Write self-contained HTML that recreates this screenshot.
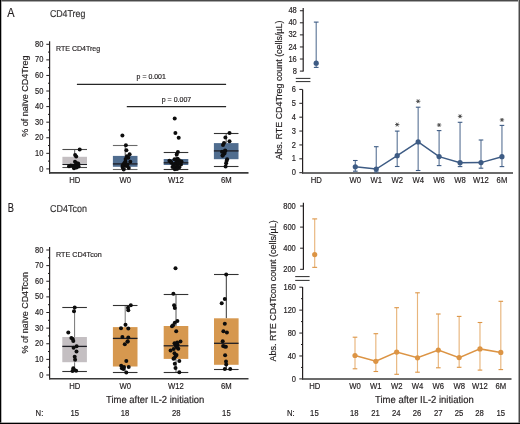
<!DOCTYPE html>
<html><head><meta charset="utf-8"><style>
html,body{margin:0;padding:0;background:#fff;width:520px;height:424px;overflow:hidden;}
svg text{font-family:"Liberation Sans", sans-serif;stroke:#231f20;stroke-width:0.18px;}
</style></head><body>
<svg width="520" height="424" viewBox="0 0 520 424" style="position:absolute;left:0;top:0;will-change:transform">
<g font-family='"Liberation Sans", sans-serif'>
<rect x="0" y="0" width="520" height="424" fill="#fff"/>
<text x="7.3" y="16.6" font-size="12.2" text-anchor="start" fill="#231f20" textLength="7.3" lengthAdjust="spacingAndGlyphs">A</text>
<text x="49.9" y="17.4" font-size="10" text-anchor="start" fill="#3a3a3a" textLength="35.4" lengthAdjust="spacingAndGlyphs" text-rendering="geometricPrecision">CD4Treg</text>
<line x1="49.6" y1="41.2" x2="49.6" y2="173.7" stroke="#231f20" stroke-width="1.2"/>
<line x1="46.3" y1="168.9" x2="49.6" y2="168.9" stroke="#231f20" stroke-width="1"/>
<text x="43.4" y="171.5" font-size="8.25" text-anchor="end" fill="#231f20" textLength="4.17" lengthAdjust="spacingAndGlyphs">0</text>
<line x1="48" y1="161.11" x2="49.6" y2="161.11" stroke="#231f20" stroke-width="1"/>
<line x1="46.3" y1="153.33" x2="49.6" y2="153.33" stroke="#231f20" stroke-width="1"/>
<text x="43.4" y="155.93" font-size="8.25" text-anchor="end" fill="#231f20" textLength="8.34" lengthAdjust="spacingAndGlyphs">10</text>
<line x1="48" y1="145.54" x2="49.6" y2="145.54" stroke="#231f20" stroke-width="1"/>
<line x1="46.3" y1="137.75" x2="49.6" y2="137.75" stroke="#231f20" stroke-width="1"/>
<text x="43.4" y="140.35" font-size="8.25" text-anchor="end" fill="#231f20" textLength="8.34" lengthAdjust="spacingAndGlyphs">20</text>
<line x1="48" y1="129.96" x2="49.6" y2="129.96" stroke="#231f20" stroke-width="1"/>
<line x1="46.3" y1="122.18" x2="49.6" y2="122.18" stroke="#231f20" stroke-width="1"/>
<text x="43.4" y="124.78" font-size="8.25" text-anchor="end" fill="#231f20" textLength="8.34" lengthAdjust="spacingAndGlyphs">30</text>
<line x1="48" y1="114.39" x2="49.6" y2="114.39" stroke="#231f20" stroke-width="1"/>
<line x1="46.3" y1="106.6" x2="49.6" y2="106.6" stroke="#231f20" stroke-width="1"/>
<text x="43.4" y="109.2" font-size="8.25" text-anchor="end" fill="#231f20" textLength="8.34" lengthAdjust="spacingAndGlyphs">40</text>
<line x1="48" y1="98.81" x2="49.6" y2="98.81" stroke="#231f20" stroke-width="1"/>
<line x1="46.3" y1="91.03" x2="49.6" y2="91.03" stroke="#231f20" stroke-width="1"/>
<text x="43.4" y="93.62" font-size="8.25" text-anchor="end" fill="#231f20" textLength="8.34" lengthAdjust="spacingAndGlyphs">50</text>
<line x1="48" y1="83.24" x2="49.6" y2="83.24" stroke="#231f20" stroke-width="1"/>
<line x1="46.3" y1="75.45" x2="49.6" y2="75.45" stroke="#231f20" stroke-width="1"/>
<text x="43.4" y="78.05" font-size="8.25" text-anchor="end" fill="#231f20" textLength="8.34" lengthAdjust="spacingAndGlyphs">60</text>
<line x1="48" y1="67.66" x2="49.6" y2="67.66" stroke="#231f20" stroke-width="1"/>
<line x1="46.3" y1="59.88" x2="49.6" y2="59.88" stroke="#231f20" stroke-width="1"/>
<text x="43.4" y="62.48" font-size="8.25" text-anchor="end" fill="#231f20" textLength="8.34" lengthAdjust="spacingAndGlyphs">70</text>
<line x1="48" y1="52.09" x2="49.6" y2="52.09" stroke="#231f20" stroke-width="1"/>
<line x1="46.3" y1="44.3" x2="49.6" y2="44.3" stroke="#231f20" stroke-width="1"/>
<text x="43.4" y="46.9" font-size="8.25" text-anchor="end" fill="#231f20" textLength="8.34" lengthAdjust="spacingAndGlyphs">80</text>
<line x1="49" y1="172.9" x2="248.5" y2="172.9" stroke="#3a3a3a" stroke-width="1.6"/>
<text x="56" y="51" font-size="7.8" text-anchor="start" fill="#231f20" textLength="44.2" lengthAdjust="spacingAndGlyphs">RTE CD4Treg</text>
<text transform="translate(27.9,96.1) rotate(-90)" font-size="9.3" text-anchor="middle" fill="#231f20" textLength="81.2" lengthAdjust="spacingAndGlyphs">% of na&#239;ve CD4Treg</text>
<line x1="76.9" y1="84.4" x2="226.1" y2="84.4" stroke="#262626" stroke-width="1.15"/>
<line x1="126.8" y1="106.6" x2="226.1" y2="106.6" stroke="#262626" stroke-width="1.15"/>
<text x="151.2" y="79.3" font-size="7.3" text-anchor="middle" fill="#231f20" textLength="29.2" lengthAdjust="spacingAndGlyphs">p = 0.001</text>
<text x="176.5" y="101.6" font-size="7.3" text-anchor="middle" fill="#231f20" textLength="29.5" lengthAdjust="spacingAndGlyphs">p = 0.007</text>
<line x1="74.7" y1="149.6" x2="74.7" y2="156.8" stroke="#555" stroke-width="1"/>
<line x1="74.7" y1="163.1" x2="74.7" y2="167.8" stroke="#555" stroke-width="1"/>
<rect x="62.400000000000006" y="156.8" width="24.6" height="6.299999999999983" fill="#c4bfc2"/>
<line x1="62.4" y1="164.4" x2="87" y2="164.4" stroke="#1e1e24" stroke-width="1.3"/>
<line x1="62.4" y1="149.5" x2="87" y2="149.5" stroke="#4a4a4a" stroke-width="1.1"/>
<line x1="62.4" y1="167.5" x2="87" y2="167.5" stroke="#4a4a4a" stroke-width="1.1"/>
<line x1="125.2" y1="145.6" x2="125.2" y2="155.9" stroke="#555" stroke-width="1"/>
<line x1="125.2" y1="166.8" x2="125.2" y2="169.3" stroke="#555" stroke-width="1"/>
<rect x="112.9" y="155.9" width="24.6" height="10.900000000000006" fill="#506d8f"/>
<line x1="112.9" y1="163.9" x2="137.5" y2="163.9" stroke="#1e1e24" stroke-width="1.3"/>
<line x1="112.9" y1="145.5" x2="137.5" y2="145.5" stroke="#6a6a6a" stroke-width="1.1"/>
<line x1="112.9" y1="169.5" x2="137.5" y2="169.5" stroke="#6a6a6a" stroke-width="1.1"/>
<line x1="176" y1="152.2" x2="176" y2="159" stroke="#555" stroke-width="1"/>
<line x1="176" y1="165" x2="176" y2="169.4" stroke="#555" stroke-width="1"/>
<rect x="163.7" y="159.0" width="24.6" height="6.0" fill="#506d8f"/>
<line x1="163.7" y1="162.8" x2="188.3" y2="162.8" stroke="#1e1e24" stroke-width="1.3"/>
<line x1="163.7" y1="152.5" x2="188.3" y2="152.5" stroke="#333" stroke-width="1.1"/>
<line x1="163.7" y1="169.5" x2="188.3" y2="169.5" stroke="#333" stroke-width="1.1"/>
<line x1="226.2" y1="133" x2="226.2" y2="143.1" stroke="#555" stroke-width="1"/>
<line x1="226.2" y1="159.2" x2="226.2" y2="166.4" stroke="#555" stroke-width="1"/>
<rect x="213.89999999999998" y="143.1" width="24.6" height="16.099999999999994" fill="#506d8f"/>
<line x1="213.9" y1="150.9" x2="238.5" y2="150.9" stroke="#1e1e24" stroke-width="1.3"/>
<line x1="213.9" y1="133.5" x2="238.5" y2="133.5" stroke="#333" stroke-width="1.1"/>
<line x1="213.9" y1="166.5" x2="238.5" y2="166.5" stroke="#333" stroke-width="1.1"/>
<circle cx="79.7" cy="149.6" r="2.0" fill="#0d0d0d"/>
<circle cx="75.1" cy="155.1" r="2.0" fill="#0d0d0d"/>
<circle cx="76.2" cy="156.6" r="2.0" fill="#0d0d0d"/>
<circle cx="75" cy="161.8" r="2.0" fill="#0d0d0d"/>
<circle cx="78.2" cy="163.5" r="2.0" fill="#0d0d0d"/>
<circle cx="76.3" cy="163.1" r="2.0" fill="#0d0d0d"/>
<circle cx="69" cy="166.2" r="2.0" fill="#0d0d0d"/>
<circle cx="70.9" cy="165.4" r="2.0" fill="#0d0d0d"/>
<circle cx="72.8" cy="165.8" r="2.0" fill="#0d0d0d"/>
<circle cx="74" cy="168.3" r="2.0" fill="#0d0d0d"/>
<circle cx="75.5" cy="167.2" r="2.0" fill="#0d0d0d"/>
<circle cx="78.6" cy="166.4" r="2.0" fill="#0d0d0d"/>
<circle cx="77.1" cy="165.2" r="2.0" fill="#0d0d0d"/>
<circle cx="74.5" cy="166" r="2.0" fill="#0d0d0d"/>
<circle cx="76.5" cy="167.6" r="2.0" fill="#0d0d0d"/>
<circle cx="122.4" cy="135.4" r="2.0" fill="#0d0d0d"/>
<circle cx="125.9" cy="145.3" r="2.0" fill="#0d0d0d"/>
<circle cx="126.4" cy="150.3" r="2.0" fill="#0d0d0d"/>
<circle cx="129.6" cy="154.3" r="2.0" fill="#0d0d0d"/>
<circle cx="126.9" cy="156.2" r="2.0" fill="#0d0d0d"/>
<circle cx="128.3" cy="157.7" r="2.0" fill="#0d0d0d"/>
<circle cx="130.3" cy="161.7" r="2.0" fill="#0d0d0d"/>
<circle cx="125.4" cy="161.5" r="2.0" fill="#0d0d0d"/>
<circle cx="123.4" cy="164.2" r="2.0" fill="#0d0d0d"/>
<circle cx="124.9" cy="165.6" r="2.0" fill="#0d0d0d"/>
<circle cx="126.9" cy="166.1" r="2.0" fill="#0d0d0d"/>
<circle cx="122.7" cy="167.6" r="2.0" fill="#0d0d0d"/>
<circle cx="123.7" cy="169.6" r="2.0" fill="#0d0d0d"/>
<circle cx="128.8" cy="168.1" r="2.0" fill="#0d0d0d"/>
<circle cx="124.5" cy="163" r="2.0" fill="#0d0d0d"/>
<circle cx="127.5" cy="164.5" r="2.0" fill="#0d0d0d"/>
<circle cx="125.6" cy="159" r="2.0" fill="#0d0d0d"/>
<circle cx="122.5" cy="166" r="2.0" fill="#0d0d0d"/>
<circle cx="174.7" cy="118.4" r="2.0" fill="#0d0d0d"/>
<circle cx="175.4" cy="132.9" r="2.0" fill="#0d0d0d"/>
<circle cx="178.7" cy="137.7" r="2.0" fill="#0d0d0d"/>
<circle cx="177.9" cy="152" r="2.0" fill="#0d0d0d"/>
<circle cx="176.7" cy="154.5" r="2.0" fill="#0d0d0d"/>
<circle cx="169.4" cy="160.7" r="2.0" fill="#0d0d0d"/>
<circle cx="171.4" cy="162.7" r="2.0" fill="#0d0d0d"/>
<circle cx="172.5" cy="167" r="2.0" fill="#0d0d0d"/>
<circle cx="174.8" cy="169.2" r="2.0" fill="#0d0d0d"/>
<circle cx="181.5" cy="161.6" r="2.0" fill="#0d0d0d"/>
<circle cx="181" cy="164.4" r="2.0" fill="#0d0d0d"/>
<circle cx="179.3" cy="167.2" r="2.0" fill="#0d0d0d"/>
<circle cx="176.5" cy="161" r="2.0" fill="#0d0d0d"/>
<circle cx="177.6" cy="158.8" r="2.0" fill="#0d0d0d"/>
<circle cx="175.3" cy="163.8" r="2.0" fill="#0d0d0d"/>
<circle cx="177.6" cy="165.5" r="2.0" fill="#0d0d0d"/>
<circle cx="174.5" cy="159.3" r="2.0" fill="#0d0d0d"/>
<circle cx="173.4" cy="164.8" r="2.0" fill="#0d0d0d"/>
<circle cx="179" cy="160.3" r="2.0" fill="#0d0d0d"/>
<circle cx="176" cy="167.5" r="2.0" fill="#0d0d0d"/>
<circle cx="178.4" cy="163" r="2.0" fill="#0d0d0d"/>
<circle cx="174.2" cy="166.8" r="2.0" fill="#0d0d0d"/>
<circle cx="171" cy="161.8" r="2.0" fill="#0d0d0d"/>
<circle cx="180.2" cy="162.5" r="2.0" fill="#0d0d0d"/>
<circle cx="177" cy="169" r="2.0" fill="#0d0d0d"/>
<circle cx="229.5" cy="133" r="2.0" fill="#0d0d0d"/>
<circle cx="225.4" cy="137.4" r="2.0" fill="#0d0d0d"/>
<circle cx="229.5" cy="141.3" r="2.0" fill="#0d0d0d"/>
<circle cx="224" cy="143.1" r="2.0" fill="#0d0d0d"/>
<circle cx="223" cy="145.1" r="2.0" fill="#0d0d0d"/>
<circle cx="225.1" cy="150.6" r="2.0" fill="#0d0d0d"/>
<circle cx="222" cy="151.7" r="2.0" fill="#0d0d0d"/>
<circle cx="224.5" cy="153.5" r="2.0" fill="#0d0d0d"/>
<circle cx="222.5" cy="155.8" r="2.0" fill="#0d0d0d"/>
<circle cx="227.1" cy="159.2" r="2.0" fill="#0d0d0d"/>
<circle cx="226.6" cy="161" r="2.0" fill="#0d0d0d"/>
<circle cx="226.1" cy="163.3" r="2.0" fill="#0d0d0d"/>
<circle cx="225.6" cy="166.4" r="2.0" fill="#0d0d0d"/>
<circle cx="225.3" cy="151" r="2.0" fill="#0d0d0d"/>
<circle cx="222.8" cy="155.2" r="2.0" fill="#0d0d0d"/>
<text x="74.8" y="183" font-size="8.47" text-anchor="middle" fill="#231f20" textLength="11.12" lengthAdjust="spacingAndGlyphs">HD</text>
<text x="125.2" y="183" font-size="8.47" text-anchor="middle" fill="#231f20" textLength="11.55" lengthAdjust="spacingAndGlyphs">W0</text>
<text x="176" y="183" font-size="8.47" text-anchor="middle" fill="#231f20" textLength="15.83" lengthAdjust="spacingAndGlyphs">W12</text>
<text x="226.3" y="183" font-size="8.47" text-anchor="middle" fill="#231f20" textLength="10.7" lengthAdjust="spacingAndGlyphs">6M</text>
<text x="7.8" y="211.7" font-size="12.2" text-anchor="start" fill="#231f20" textLength="6.2" lengthAdjust="spacingAndGlyphs">B</text>
<text x="50.1" y="212.4" font-size="10" text-anchor="start" fill="#3a3a3a" textLength="36.9" lengthAdjust="spacingAndGlyphs" text-rendering="geometricPrecision">CD4Tcon</text>
<line x1="49.6" y1="247.1" x2="49.6" y2="379.6" stroke="#231f20" stroke-width="1.2"/>
<line x1="46.3" y1="375" x2="49.6" y2="375" stroke="#231f20" stroke-width="1"/>
<text x="43.4" y="377.6" font-size="8.25" text-anchor="end" fill="#231f20" textLength="4.17" lengthAdjust="spacingAndGlyphs">0</text>
<line x1="48" y1="367.19" x2="49.6" y2="367.19" stroke="#231f20" stroke-width="1"/>
<line x1="46.3" y1="359.38" x2="49.6" y2="359.38" stroke="#231f20" stroke-width="1"/>
<text x="43.4" y="361.98" font-size="8.25" text-anchor="end" fill="#231f20" textLength="8.34" lengthAdjust="spacingAndGlyphs">10</text>
<line x1="48" y1="351.56" x2="49.6" y2="351.56" stroke="#231f20" stroke-width="1"/>
<line x1="46.3" y1="343.75" x2="49.6" y2="343.75" stroke="#231f20" stroke-width="1"/>
<text x="43.4" y="346.35" font-size="8.25" text-anchor="end" fill="#231f20" textLength="8.34" lengthAdjust="spacingAndGlyphs">20</text>
<line x1="48" y1="335.94" x2="49.6" y2="335.94" stroke="#231f20" stroke-width="1"/>
<line x1="46.3" y1="328.12" x2="49.6" y2="328.12" stroke="#231f20" stroke-width="1"/>
<text x="43.4" y="330.73" font-size="8.25" text-anchor="end" fill="#231f20" textLength="8.34" lengthAdjust="spacingAndGlyphs">30</text>
<line x1="48" y1="320.31" x2="49.6" y2="320.31" stroke="#231f20" stroke-width="1"/>
<line x1="46.3" y1="312.5" x2="49.6" y2="312.5" stroke="#231f20" stroke-width="1"/>
<text x="43.4" y="315.1" font-size="8.25" text-anchor="end" fill="#231f20" textLength="8.34" lengthAdjust="spacingAndGlyphs">40</text>
<line x1="48" y1="304.69" x2="49.6" y2="304.69" stroke="#231f20" stroke-width="1"/>
<line x1="46.3" y1="296.88" x2="49.6" y2="296.88" stroke="#231f20" stroke-width="1"/>
<text x="43.4" y="299.48" font-size="8.25" text-anchor="end" fill="#231f20" textLength="8.34" lengthAdjust="spacingAndGlyphs">50</text>
<line x1="48" y1="289.06" x2="49.6" y2="289.06" stroke="#231f20" stroke-width="1"/>
<line x1="46.3" y1="281.25" x2="49.6" y2="281.25" stroke="#231f20" stroke-width="1"/>
<text x="43.4" y="283.85" font-size="8.25" text-anchor="end" fill="#231f20" textLength="8.34" lengthAdjust="spacingAndGlyphs">60</text>
<line x1="48" y1="273.44" x2="49.6" y2="273.44" stroke="#231f20" stroke-width="1"/>
<line x1="46.3" y1="265.62" x2="49.6" y2="265.62" stroke="#231f20" stroke-width="1"/>
<text x="43.4" y="268.23" font-size="8.25" text-anchor="end" fill="#231f20" textLength="8.34" lengthAdjust="spacingAndGlyphs">70</text>
<line x1="48" y1="257.81" x2="49.6" y2="257.81" stroke="#231f20" stroke-width="1"/>
<line x1="46.3" y1="250" x2="49.6" y2="250" stroke="#231f20" stroke-width="1"/>
<text x="43.4" y="252.6" font-size="8.25" text-anchor="end" fill="#231f20" textLength="8.34" lengthAdjust="spacingAndGlyphs">80</text>
<line x1="49" y1="378.8" x2="248.5" y2="378.8" stroke="#3a3a3a" stroke-width="1.6"/>
<text x="56" y="257.2" font-size="7.8" text-anchor="start" fill="#231f20" textLength="45.7" lengthAdjust="spacingAndGlyphs">RTE CD4Tcon</text>
<text transform="translate(27.9,312.8) rotate(-90)" font-size="9.3" text-anchor="middle" fill="#231f20" textLength="81.5" lengthAdjust="spacingAndGlyphs">% of na&#239;ve CD4Tcon</text>
<line x1="74.6" y1="307.4" x2="74.6" y2="337" stroke="#777" stroke-width="1"/>
<line x1="74.6" y1="362.2" x2="74.6" y2="371.9" stroke="#777" stroke-width="1"/>
<rect x="62.3" y="337.0" width="24.6" height="25.19999999999999" fill="#c4bfc2"/>
<line x1="62.3" y1="346.4" x2="86.9" y2="346.4" stroke="#1e1e24" stroke-width="1.3"/>
<line x1="62.3" y1="307.5" x2="86.9" y2="307.5" stroke="#333" stroke-width="1.1"/>
<line x1="62.3" y1="371.5" x2="86.9" y2="371.5" stroke="#333" stroke-width="1.1"/>
<line x1="125.2" y1="305.3" x2="125.2" y2="327.1" stroke="#777" stroke-width="1"/>
<line x1="125.2" y1="366.5" x2="125.2" y2="372.4" stroke="#777" stroke-width="1"/>
<rect x="112.9" y="327.1" width="24.6" height="39.39999999999998" fill="#d6984f"/>
<line x1="112.9" y1="338.4" x2="137.5" y2="338.4" stroke="#1e1e24" stroke-width="1.3"/>
<line x1="112.9" y1="305.5" x2="137.5" y2="305.5" stroke="#333" stroke-width="1.1"/>
<line x1="112.9" y1="372.5" x2="137.5" y2="372.5" stroke="#333" stroke-width="1.1"/>
<line x1="176" y1="294" x2="176" y2="326" stroke="#555" stroke-width="1"/>
<line x1="176" y1="358.9" x2="176" y2="372" stroke="#555" stroke-width="1"/>
<rect x="163.7" y="326.0" width="24.6" height="32.89999999999998" fill="#d6984f"/>
<line x1="163.7" y1="345.8" x2="188.3" y2="345.8" stroke="#1e1e24" stroke-width="1.3"/>
<line x1="163.7" y1="294.5" x2="188.3" y2="294.5" stroke="#333" stroke-width="1.1"/>
<line x1="163.7" y1="372.5" x2="188.3" y2="372.5" stroke="#333" stroke-width="1.1"/>
<line x1="226.3" y1="274.6" x2="226.3" y2="318.3" stroke="#333" stroke-width="1"/>
<line x1="226.3" y1="364.8" x2="226.3" y2="369" stroke="#333" stroke-width="1"/>
<rect x="214.0" y="318.3" width="24.6" height="46.5" fill="#d6984f"/>
<line x1="214" y1="343.3" x2="238.6" y2="343.3" stroke="#1e1e24" stroke-width="1.3"/>
<line x1="214" y1="274.5" x2="238.6" y2="274.5" stroke="#333" stroke-width="1.1"/>
<line x1="214" y1="369.5" x2="238.6" y2="369.5" stroke="#333" stroke-width="1.1"/>
<circle cx="74.7" cy="307.4" r="2.0" fill="#0d0d0d"/>
<circle cx="74" cy="311.2" r="2.0" fill="#0d0d0d"/>
<circle cx="68.3" cy="332.5" r="2.0" fill="#0d0d0d"/>
<circle cx="71.4" cy="338.1" r="2.0" fill="#0d0d0d"/>
<circle cx="72.8" cy="339" r="2.0" fill="#0d0d0d"/>
<circle cx="73.3" cy="340.9" r="2.0" fill="#0d0d0d"/>
<circle cx="76.6" cy="346.3" r="2.0" fill="#0d0d0d"/>
<circle cx="73.6" cy="347.8" r="2.0" fill="#0d0d0d"/>
<circle cx="76.5" cy="351.6" r="2.0" fill="#0d0d0d"/>
<circle cx="74.7" cy="356.7" r="2.0" fill="#0d0d0d"/>
<circle cx="75.1" cy="359.8" r="2.0" fill="#0d0d0d"/>
<circle cx="73.3" cy="368.3" r="2.0" fill="#0d0d0d"/>
<circle cx="72.5" cy="371.1" r="2.0" fill="#0d0d0d"/>
<circle cx="76.1" cy="370.8" r="2.0" fill="#0d0d0d"/>
<circle cx="73.8" cy="369.5" r="2.0" fill="#0d0d0d"/>
<circle cx="130.8" cy="305.3" r="2.0" fill="#0d0d0d"/>
<circle cx="128.3" cy="310.2" r="2.0" fill="#0d0d0d"/>
<circle cx="128" cy="307.7" r="2.0" fill="#0d0d0d"/>
<circle cx="125.5" cy="324.7" r="2.0" fill="#0d0d0d"/>
<circle cx="121" cy="328.2" r="2.0" fill="#0d0d0d"/>
<circle cx="128.3" cy="328.5" r="2.0" fill="#0d0d0d"/>
<circle cx="122.4" cy="337.1" r="2.0" fill="#0d0d0d"/>
<circle cx="128.3" cy="337.4" r="2.0" fill="#0d0d0d"/>
<circle cx="127.6" cy="341.6" r="2.0" fill="#0d0d0d"/>
<circle cx="124.8" cy="344.2" r="2.0" fill="#0d0d0d"/>
<circle cx="126.3" cy="361" r="2.0" fill="#0d0d0d"/>
<circle cx="121.2" cy="365.8" r="2.0" fill="#0d0d0d"/>
<circle cx="124" cy="366.9" r="2.0" fill="#0d0d0d"/>
<circle cx="128.7" cy="366.9" r="2.0" fill="#0d0d0d"/>
<circle cx="121.9" cy="368.3" r="2.0" fill="#0d0d0d"/>
<circle cx="126.3" cy="372.5" r="2.0" fill="#0d0d0d"/>
<circle cx="127.6" cy="341.4" r="2.0" fill="#0d0d0d"/>
<circle cx="123.5" cy="369" r="2.0" fill="#0d0d0d"/>
<circle cx="175.5" cy="268.2" r="2.0" fill="#0d0d0d"/>
<circle cx="173.4" cy="293.7" r="2.0" fill="#0d0d0d"/>
<circle cx="174.1" cy="305.3" r="2.0" fill="#0d0d0d"/>
<circle cx="174.8" cy="308.1" r="2.0" fill="#0d0d0d"/>
<circle cx="177.4" cy="320.9" r="2.0" fill="#0d0d0d"/>
<circle cx="174.8" cy="322.8" r="2.0" fill="#0d0d0d"/>
<circle cx="173.1" cy="325.2" r="2.0" fill="#0d0d0d"/>
<circle cx="172" cy="326.3" r="2.0" fill="#0d0d0d"/>
<circle cx="176.2" cy="331.3" r="2.0" fill="#0d0d0d"/>
<circle cx="180.5" cy="341.6" r="2.0" fill="#0d0d0d"/>
<circle cx="174.5" cy="343.3" r="2.0" fill="#0d0d0d"/>
<circle cx="177.6" cy="344.7" r="2.0" fill="#0d0d0d"/>
<circle cx="176.5" cy="346.8" r="2.0" fill="#0d0d0d"/>
<circle cx="178.3" cy="348.7" r="2.0" fill="#0d0d0d"/>
<circle cx="173.7" cy="349" r="2.0" fill="#0d0d0d"/>
<circle cx="170.6" cy="350.4" r="2.0" fill="#0d0d0d"/>
<circle cx="174.5" cy="353.2" r="2.0" fill="#0d0d0d"/>
<circle cx="175.5" cy="356.3" r="2.0" fill="#0d0d0d"/>
<circle cx="174.1" cy="358.2" r="2.0" fill="#0d0d0d"/>
<circle cx="179.3" cy="361" r="2.0" fill="#0d0d0d"/>
<circle cx="174.8" cy="363.8" r="2.0" fill="#0d0d0d"/>
<circle cx="175.5" cy="368.1" r="2.0" fill="#0d0d0d"/>
<circle cx="179.3" cy="372.3" r="2.0" fill="#0d0d0d"/>
<circle cx="177.2" cy="342.5" r="2.0" fill="#0d0d0d"/>
<circle cx="175.8" cy="345.5" r="2.0" fill="#0d0d0d"/>
<circle cx="173.5" cy="358.8" r="2.0" fill="#0d0d0d"/>
<circle cx="176.5" cy="355" r="2.0" fill="#0d0d0d"/>
<circle cx="177" cy="347.5" r="2.0" fill="#0d0d0d"/>
<circle cx="226.2" cy="274.6" r="2.0" fill="#0d0d0d"/>
<circle cx="224.8" cy="299" r="2.0" fill="#0d0d0d"/>
<circle cx="221.7" cy="303.2" r="2.0" fill="#0d0d0d"/>
<circle cx="224.8" cy="323.8" r="2.0" fill="#0d0d0d"/>
<circle cx="223.4" cy="331.3" r="2.0" fill="#0d0d0d"/>
<circle cx="226.9" cy="332.4" r="2.0" fill="#0d0d0d"/>
<circle cx="222.7" cy="341.2" r="2.0" fill="#0d0d0d"/>
<circle cx="223.1" cy="346.1" r="2.0" fill="#0d0d0d"/>
<circle cx="225.9" cy="346.8" r="2.0" fill="#0d0d0d"/>
<circle cx="225.1" cy="355.3" r="2.0" fill="#0d0d0d"/>
<circle cx="226.2" cy="364.5" r="2.0" fill="#0d0d0d"/>
<circle cx="224.8" cy="369" r="2.0" fill="#0d0d0d"/>
<circle cx="230.2" cy="369" r="2.0" fill="#0d0d0d"/>
<circle cx="226" cy="361.5" r="2.0" fill="#0d0d0d"/>
<circle cx="224.5" cy="346.5" r="2.0" fill="#0d0d0d"/>
<text x="74.8" y="389.1" font-size="8.47" text-anchor="middle" fill="#231f20" textLength="11.12" lengthAdjust="spacingAndGlyphs">HD</text>
<text x="125.2" y="389.1" font-size="8.47" text-anchor="middle" fill="#231f20" textLength="11.55" lengthAdjust="spacingAndGlyphs">W0</text>
<text x="176" y="389.1" font-size="8.47" text-anchor="middle" fill="#231f20" textLength="15.83" lengthAdjust="spacingAndGlyphs">W12</text>
<text x="226.3" y="389.1" font-size="8.47" text-anchor="middle" fill="#231f20" textLength="10.7" lengthAdjust="spacingAndGlyphs">6M</text>
<text x="155.2" y="403" font-size="10.2" text-anchor="middle" fill="#231f20" textLength="98.3" lengthAdjust="spacingAndGlyphs" text-rendering="geometricPrecision">Time after IL-2 initiation</text>
<text x="35.6" y="415.8" font-size="8.47" text-anchor="start" fill="#231f20" textLength="7.7" lengthAdjust="spacingAndGlyphs">N:</text>
<text x="74.7" y="415.8" font-size="8.47" text-anchor="middle" fill="#231f20" textLength="8.56" lengthAdjust="spacingAndGlyphs">15</text>
<text x="125.1" y="415.8" font-size="8.47" text-anchor="middle" fill="#231f20" textLength="8.56" lengthAdjust="spacingAndGlyphs">18</text>
<text x="176.2" y="415.8" font-size="8.47" text-anchor="middle" fill="#231f20" textLength="8.56" lengthAdjust="spacingAndGlyphs">28</text>
<text x="226.4" y="415.8" font-size="8.47" text-anchor="middle" fill="#231f20" textLength="8.56" lengthAdjust="spacingAndGlyphs">15</text>
<line x1="303.2" y1="7.9" x2="303.2" y2="71.6" stroke="#231f20" stroke-width="1.2"/>
<line x1="299.9" y1="10.74" x2="303.2" y2="10.74" stroke="#231f20" stroke-width="1"/>
<text x="296.8" y="13.34" font-size="8.25" text-anchor="end" fill="#231f20" textLength="8.34" lengthAdjust="spacingAndGlyphs">48</text>
<line x1="299.9" y1="22.81" x2="303.2" y2="22.81" stroke="#231f20" stroke-width="1"/>
<text x="296.8" y="25.41" font-size="8.25" text-anchor="end" fill="#231f20" textLength="8.34" lengthAdjust="spacingAndGlyphs">40</text>
<line x1="299.9" y1="34.88" x2="303.2" y2="34.88" stroke="#231f20" stroke-width="1"/>
<text x="296.8" y="37.48" font-size="8.25" text-anchor="end" fill="#231f20" textLength="8.34" lengthAdjust="spacingAndGlyphs">32</text>
<line x1="299.9" y1="46.96" x2="303.2" y2="46.96" stroke="#231f20" stroke-width="1"/>
<text x="296.8" y="49.56" font-size="8.25" text-anchor="end" fill="#231f20" textLength="8.34" lengthAdjust="spacingAndGlyphs">24</text>
<line x1="299.9" y1="59.03" x2="303.2" y2="59.03" stroke="#231f20" stroke-width="1"/>
<text x="296.8" y="61.63" font-size="8.25" text-anchor="end" fill="#231f20" textLength="8.34" lengthAdjust="spacingAndGlyphs">16</text>
<line x1="299.9" y1="71.1" x2="303.2" y2="71.1" stroke="#231f20" stroke-width="1"/>
<text x="296.8" y="73.7" font-size="8.25" text-anchor="end" fill="#231f20" textLength="4.17" lengthAdjust="spacingAndGlyphs">8</text>
<line x1="295.8" y1="78.4" x2="310.4" y2="78.4" stroke="#2a2a2a" stroke-width="1.0"/>
<line x1="295.8" y1="81.6" x2="310.4" y2="81.6" stroke="#2a2a2a" stroke-width="1.0"/>
<line x1="302.6" y1="89.4" x2="302.6" y2="173.4" stroke="#231f20" stroke-width="1.2"/>
<line x1="299.3" y1="172.7" x2="302.6" y2="172.7" stroke="#231f20" stroke-width="1"/>
<text x="295.8" y="175.3" font-size="8.25" text-anchor="end" fill="#231f20" textLength="4.17" lengthAdjust="spacingAndGlyphs">0</text>
<line x1="299.3" y1="158.82" x2="302.6" y2="158.82" stroke="#231f20" stroke-width="1"/>
<text x="295.8" y="161.42" font-size="8.25" text-anchor="end" fill="#231f20" textLength="4.17" lengthAdjust="spacingAndGlyphs">1</text>
<line x1="299.3" y1="144.94" x2="302.6" y2="144.94" stroke="#231f20" stroke-width="1"/>
<text x="295.8" y="147.54" font-size="8.25" text-anchor="end" fill="#231f20" textLength="4.17" lengthAdjust="spacingAndGlyphs">2</text>
<line x1="299.3" y1="131.06" x2="302.6" y2="131.06" stroke="#231f20" stroke-width="1"/>
<text x="295.8" y="133.66" font-size="8.25" text-anchor="end" fill="#231f20" textLength="4.17" lengthAdjust="spacingAndGlyphs">3</text>
<line x1="299.3" y1="117.18" x2="302.6" y2="117.18" stroke="#231f20" stroke-width="1"/>
<text x="295.8" y="119.78" font-size="8.25" text-anchor="end" fill="#231f20" textLength="4.17" lengthAdjust="spacingAndGlyphs">4</text>
<line x1="299.3" y1="103.3" x2="302.6" y2="103.3" stroke="#231f20" stroke-width="1"/>
<text x="295.8" y="105.9" font-size="8.25" text-anchor="end" fill="#231f20" textLength="4.17" lengthAdjust="spacingAndGlyphs">5</text>
<line x1="299.3" y1="89.42" x2="302.6" y2="89.42" stroke="#231f20" stroke-width="1"/>
<text x="295.8" y="92.02" font-size="8.25" text-anchor="end" fill="#231f20" textLength="4.17" lengthAdjust="spacingAndGlyphs">6</text>
<line x1="302" y1="173" x2="513" y2="173" stroke="#3a3a3a" stroke-width="1.6"/>
<text transform="translate(281.5,90.15) rotate(-90)" font-size="9.4" text-anchor="middle" fill="#231f20" textLength="139.1" lengthAdjust="spacingAndGlyphs">Abs. RTE CD4Treg count (cells/&#181;L)</text>
<line x1="316.2" y1="22.1" x2="316.2" y2="67.4" stroke="#5f7799" stroke-width="1.15"/>
<line x1="313.85" y1="22.1" x2="318.55" y2="22.1" stroke="#3d5b84" stroke-width="1.1"/>
<line x1="313.85" y1="67.4" x2="318.55" y2="67.4" stroke="#3d5b84" stroke-width="1.1"/>
<circle cx="316.2" cy="63.2" r="2.6" fill="#3d5b84"/>
<line x1="355.3" y1="160.5" x2="355.3" y2="171.2" stroke="#5f7799" stroke-width="1.15"/>
<line x1="353" y1="160.5" x2="357.6" y2="160.5" stroke="#3d5b84" stroke-width="1.1"/>
<line x1="353" y1="171.2" x2="357.6" y2="171.2" stroke="#3d5b84" stroke-width="1.1"/>
<line x1="376.25" y1="146.7" x2="376.25" y2="172" stroke="#5f7799" stroke-width="1.15"/>
<line x1="373.95" y1="146.7" x2="378.55" y2="146.7" stroke="#3d5b84" stroke-width="1.1"/>
<line x1="373.95" y1="172" x2="378.55" y2="172" stroke="#3d5b84" stroke-width="1.1"/>
<line x1="397.2" y1="131.1" x2="397.2" y2="166.5" stroke="#5f7799" stroke-width="1.15"/>
<line x1="394.9" y1="131.1" x2="399.5" y2="131.1" stroke="#3d5b84" stroke-width="1.1"/>
<line x1="394.9" y1="166.5" x2="399.5" y2="166.5" stroke="#3d5b84" stroke-width="1.1"/>
<line x1="418.15" y1="107.2" x2="418.15" y2="170.5" stroke="#5f7799" stroke-width="1.15"/>
<line x1="415.85" y1="107.2" x2="420.45" y2="107.2" stroke="#3d5b84" stroke-width="1.1"/>
<line x1="415.85" y1="170.5" x2="420.45" y2="170.5" stroke="#3d5b84" stroke-width="1.1"/>
<line x1="439.1" y1="130.6" x2="439.1" y2="165.6" stroke="#5f7799" stroke-width="1.15"/>
<line x1="436.8" y1="130.6" x2="441.4" y2="130.6" stroke="#3d5b84" stroke-width="1.1"/>
<line x1="436.8" y1="165.6" x2="441.4" y2="165.6" stroke="#3d5b84" stroke-width="1.1"/>
<line x1="460.05" y1="122.3" x2="460.05" y2="166.6" stroke="#5f7799" stroke-width="1.15"/>
<line x1="457.75" y1="122.3" x2="462.35" y2="122.3" stroke="#3d5b84" stroke-width="1.1"/>
<line x1="457.75" y1="166.6" x2="462.35" y2="166.6" stroke="#3d5b84" stroke-width="1.1"/>
<line x1="481" y1="140" x2="481" y2="168.2" stroke="#5f7799" stroke-width="1.15"/>
<line x1="478.7" y1="140" x2="483.3" y2="140" stroke="#3d5b84" stroke-width="1.1"/>
<line x1="478.7" y1="168.2" x2="483.3" y2="168.2" stroke="#3d5b84" stroke-width="1.1"/>
<line x1="501.95" y1="125.4" x2="501.95" y2="166.6" stroke="#5f7799" stroke-width="1.15"/>
<line x1="499.65" y1="125.4" x2="504.25" y2="125.4" stroke="#3d5b84" stroke-width="1.1"/>
<line x1="499.65" y1="166.6" x2="504.25" y2="166.6" stroke="#3d5b84" stroke-width="1.1"/>
<polyline fill="none" stroke="#3d5b84" stroke-width="1.5" points="355.3,166.8 376.25,169.1 397.2,155.7 418.15,141.9 439.1,156.6 460.05,162.7 481,162.6 501.95,156.7"/>
<circle cx="355.3" cy="166.8" r="2.6" fill="#3d5b84"/>
<circle cx="376.25" cy="169.1" r="2.6" fill="#3d5b84"/>
<circle cx="397.2" cy="155.7" r="2.6" fill="#3d5b84"/>
<circle cx="418.15" cy="141.9" r="2.6" fill="#3d5b84"/>
<circle cx="439.1" cy="156.6" r="2.6" fill="#3d5b84"/>
<circle cx="460.05" cy="162.7" r="2.6" fill="#3d5b84"/>
<circle cx="481" cy="162.6" r="2.6" fill="#3d5b84"/>
<circle cx="501.95" cy="156.7" r="2.6" fill="#3d5b84"/>
<path d="M395.00,124.60L399.40,124.60M396.10,122.69L398.30,126.51M398.30,122.69L396.10,126.51" stroke="#333" stroke-width="0.8" fill="none"/>
<path d="M415.95,101.25L420.35,101.25M417.05,99.34L419.25,103.16M419.25,99.34L417.05,103.16" stroke="#333" stroke-width="0.8" fill="none"/>
<path d="M436.90,125.00L441.30,125.00M438.00,123.09L440.20,126.91M440.20,123.09L438.00,126.91" stroke="#333" stroke-width="0.8" fill="none"/>
<path d="M457.85,116.30L462.25,116.30M458.95,114.39L461.15,118.21M461.15,114.39L458.95,118.21" stroke="#333" stroke-width="0.8" fill="none"/>
<path d="M499.75,119.90L504.15,119.90M500.85,117.99L503.05,121.81M503.05,117.99L500.85,121.81" stroke="#333" stroke-width="0.8" fill="none"/>
<text x="316.2" y="183" font-size="8.47" text-anchor="middle" fill="#231f20" textLength="11.12" lengthAdjust="spacingAndGlyphs">HD</text>
<text x="355.3" y="183" font-size="8.47" text-anchor="middle" fill="#231f20" textLength="11.55" lengthAdjust="spacingAndGlyphs">W0</text>
<text x="376.25" y="183" font-size="8.47" text-anchor="middle" fill="#231f20" textLength="11.55" lengthAdjust="spacingAndGlyphs">W1</text>
<text x="397.2" y="183" font-size="8.47" text-anchor="middle" fill="#231f20" textLength="11.55" lengthAdjust="spacingAndGlyphs">W2</text>
<text x="418.15" y="183" font-size="8.47" text-anchor="middle" fill="#231f20" textLength="11.55" lengthAdjust="spacingAndGlyphs">W4</text>
<text x="439.1" y="183" font-size="8.47" text-anchor="middle" fill="#231f20" textLength="11.55" lengthAdjust="spacingAndGlyphs">W6</text>
<text x="460.05" y="183" font-size="8.47" text-anchor="middle" fill="#231f20" textLength="11.55" lengthAdjust="spacingAndGlyphs">W8</text>
<text x="481" y="183" font-size="8.47" text-anchor="middle" fill="#231f20" textLength="15.83" lengthAdjust="spacingAndGlyphs">W12</text>
<text x="501.95" y="183" font-size="8.47" text-anchor="middle" fill="#231f20" textLength="10.7" lengthAdjust="spacingAndGlyphs">6M</text>
<line x1="303.4" y1="202.8" x2="303.4" y2="269.8" stroke="#231f20" stroke-width="1.2"/>
<line x1="300.1" y1="206" x2="303.4" y2="206" stroke="#231f20" stroke-width="1"/>
<text x="295.8" y="208.6" font-size="8.25" text-anchor="end" fill="#231f20" textLength="12.51" lengthAdjust="spacingAndGlyphs">800</text>
<line x1="300.1" y1="227.1" x2="303.4" y2="227.1" stroke="#231f20" stroke-width="1"/>
<text x="295.8" y="229.7" font-size="8.25" text-anchor="end" fill="#231f20" textLength="12.51" lengthAdjust="spacingAndGlyphs">600</text>
<line x1="300.1" y1="248.2" x2="303.4" y2="248.2" stroke="#231f20" stroke-width="1"/>
<text x="295.8" y="250.8" font-size="8.25" text-anchor="end" fill="#231f20" textLength="12.51" lengthAdjust="spacingAndGlyphs">400</text>
<line x1="300.1" y1="269.3" x2="303.4" y2="269.3" stroke="#231f20" stroke-width="1"/>
<text x="295.8" y="271.9" font-size="8.25" text-anchor="end" fill="#231f20" textLength="12.51" lengthAdjust="spacingAndGlyphs">200</text>
<line x1="295.2" y1="276.6" x2="309.6" y2="276.6" stroke="#2a2a2a" stroke-width="1.0"/>
<line x1="295.2" y1="280.4" x2="309.6" y2="280.4" stroke="#2a2a2a" stroke-width="1.0"/>
<line x1="302.6" y1="287" x2="302.6" y2="379.5" stroke="#231f20" stroke-width="1.2"/>
<line x1="299.3" y1="378.9" x2="302.6" y2="378.9" stroke="#231f20" stroke-width="1"/>
<text x="296" y="381.5" font-size="8.25" text-anchor="end" fill="#231f20" textLength="4.17" lengthAdjust="spacingAndGlyphs">0</text>
<line x1="301" y1="367.44" x2="302.6" y2="367.44" stroke="#231f20" stroke-width="1"/>
<line x1="299.3" y1="355.98" x2="302.6" y2="355.98" stroke="#231f20" stroke-width="1"/>
<text x="296" y="358.58" font-size="8.25" text-anchor="end" fill="#231f20" textLength="8.34" lengthAdjust="spacingAndGlyphs">40</text>
<line x1="301" y1="344.51" x2="302.6" y2="344.51" stroke="#231f20" stroke-width="1"/>
<line x1="299.3" y1="333.05" x2="302.6" y2="333.05" stroke="#231f20" stroke-width="1"/>
<text x="296" y="335.65" font-size="8.25" text-anchor="end" fill="#231f20" textLength="8.34" lengthAdjust="spacingAndGlyphs">80</text>
<line x1="301" y1="321.59" x2="302.6" y2="321.59" stroke="#231f20" stroke-width="1"/>
<line x1="299.3" y1="310.13" x2="302.6" y2="310.13" stroke="#231f20" stroke-width="1"/>
<text x="296" y="312.73" font-size="8.25" text-anchor="end" fill="#231f20" textLength="12.51" lengthAdjust="spacingAndGlyphs">120</text>
<line x1="301" y1="298.67" x2="302.6" y2="298.67" stroke="#231f20" stroke-width="1"/>
<line x1="299.3" y1="287.2" x2="302.6" y2="287.2" stroke="#231f20" stroke-width="1"/>
<text x="296" y="289.8" font-size="8.25" text-anchor="end" fill="#231f20" textLength="12.51" lengthAdjust="spacingAndGlyphs">160</text>
<line x1="302" y1="379" x2="511.5" y2="379" stroke="#3a3a3a" stroke-width="1.6"/>
<text transform="translate(275.9,290.9) rotate(-90)" font-size="9.4" text-anchor="middle" fill="#231f20" textLength="141.2" lengthAdjust="spacingAndGlyphs">Abs. RTE CD4Tcon count (cells/&#181;L)</text>
<line x1="314.7" y1="218.9" x2="314.7" y2="267.35" stroke="#e8b57c" stroke-width="1.15"/>
<line x1="312.25" y1="218.9" x2="317.15" y2="218.9" stroke="#dc9444" stroke-width="1.1"/>
<line x1="312.25" y1="267.35" x2="317.15" y2="267.35" stroke="#dc9444" stroke-width="1.1"/>
<circle cx="314.7" cy="254.6" r="2.6" fill="#dc9444"/>
<line x1="355" y1="337.2" x2="355" y2="368.8" stroke="#e8b57c" stroke-width="1.15"/>
<line x1="352.7" y1="337.2" x2="357.3" y2="337.2" stroke="#dc9444" stroke-width="1.1"/>
<line x1="352.7" y1="368.8" x2="357.3" y2="368.8" stroke="#dc9444" stroke-width="1.1"/>
<line x1="375.83" y1="333.7" x2="375.83" y2="371.5" stroke="#e8b57c" stroke-width="1.15"/>
<line x1="373.53" y1="333.7" x2="378.13" y2="333.7" stroke="#dc9444" stroke-width="1.1"/>
<line x1="373.53" y1="371.5" x2="378.13" y2="371.5" stroke="#dc9444" stroke-width="1.1"/>
<line x1="396.66" y1="307.7" x2="396.66" y2="374.3" stroke="#e8b57c" stroke-width="1.15"/>
<line x1="394.36" y1="307.7" x2="398.96" y2="307.7" stroke="#dc9444" stroke-width="1.1"/>
<line x1="394.36" y1="374.3" x2="398.96" y2="374.3" stroke="#dc9444" stroke-width="1.1"/>
<line x1="417.49" y1="292.8" x2="417.49" y2="372.2" stroke="#e8b57c" stroke-width="1.15"/>
<line x1="415.19" y1="292.8" x2="419.79" y2="292.8" stroke="#dc9444" stroke-width="1.1"/>
<line x1="415.19" y1="372.2" x2="419.79" y2="372.2" stroke="#dc9444" stroke-width="1.1"/>
<line x1="438.32" y1="314" x2="438.32" y2="367.8" stroke="#e8b57c" stroke-width="1.15"/>
<line x1="436.02" y1="314" x2="440.62" y2="314" stroke="#dc9444" stroke-width="1.1"/>
<line x1="436.02" y1="367.8" x2="440.62" y2="367.8" stroke="#dc9444" stroke-width="1.1"/>
<line x1="459.15" y1="316.4" x2="459.15" y2="367.3" stroke="#e8b57c" stroke-width="1.15"/>
<line x1="456.85" y1="316.4" x2="461.45" y2="316.4" stroke="#dc9444" stroke-width="1.1"/>
<line x1="456.85" y1="367.3" x2="461.45" y2="367.3" stroke="#dc9444" stroke-width="1.1"/>
<line x1="479.98" y1="322.5" x2="479.98" y2="370.1" stroke="#e8b57c" stroke-width="1.15"/>
<line x1="477.68" y1="322.5" x2="482.28" y2="322.5" stroke="#dc9444" stroke-width="1.1"/>
<line x1="477.68" y1="370.1" x2="482.28" y2="370.1" stroke="#dc9444" stroke-width="1.1"/>
<line x1="500.81" y1="301.3" x2="500.81" y2="369.6" stroke="#e8b57c" stroke-width="1.15"/>
<line x1="498.51" y1="301.3" x2="503.11" y2="301.3" stroke="#dc9444" stroke-width="1.1"/>
<line x1="498.51" y1="369.6" x2="503.11" y2="369.6" stroke="#dc9444" stroke-width="1.1"/>
<polyline fill="none" stroke="#dc9444" stroke-width="1.5" points="355,355.5 375.83,361.3 396.66,352.1 417.49,357.8 438.32,350.1 459.15,357.6 479.98,348.9 500.81,352.4"/>
<circle cx="355" cy="355.5" r="2.6" fill="#dc9444"/>
<circle cx="375.83" cy="361.3" r="2.6" fill="#dc9444"/>
<circle cx="396.66" cy="352.1" r="2.6" fill="#dc9444"/>
<circle cx="417.49" cy="357.8" r="2.6" fill="#dc9444"/>
<circle cx="438.32" cy="350.1" r="2.6" fill="#dc9444"/>
<circle cx="459.15" cy="357.6" r="2.6" fill="#dc9444"/>
<circle cx="479.98" cy="348.9" r="2.6" fill="#dc9444"/>
<circle cx="500.81" cy="352.4" r="2.6" fill="#dc9444"/>
<text x="314.7" y="389.1" font-size="8.47" text-anchor="middle" fill="#231f20" textLength="11.12" lengthAdjust="spacingAndGlyphs">HD</text>
<text x="355" y="389.1" font-size="8.47" text-anchor="middle" fill="#231f20" textLength="11.55" lengthAdjust="spacingAndGlyphs">W0</text>
<text x="375.83" y="389.1" font-size="8.47" text-anchor="middle" fill="#231f20" textLength="11.55" lengthAdjust="spacingAndGlyphs">W1</text>
<text x="396.66" y="389.1" font-size="8.47" text-anchor="middle" fill="#231f20" textLength="11.55" lengthAdjust="spacingAndGlyphs">W2</text>
<text x="417.49" y="389.1" font-size="8.47" text-anchor="middle" fill="#231f20" textLength="11.55" lengthAdjust="spacingAndGlyphs">W4</text>
<text x="438.32" y="389.1" font-size="8.47" text-anchor="middle" fill="#231f20" textLength="11.55" lengthAdjust="spacingAndGlyphs">W6</text>
<text x="459.15" y="389.1" font-size="8.47" text-anchor="middle" fill="#231f20" textLength="11.55" lengthAdjust="spacingAndGlyphs">W8</text>
<text x="479.98" y="389.1" font-size="8.47" text-anchor="middle" fill="#231f20" textLength="15.83" lengthAdjust="spacingAndGlyphs">W12</text>
<text x="500.81" y="389.1" font-size="8.47" text-anchor="middle" fill="#231f20" textLength="10.7" lengthAdjust="spacingAndGlyphs">6M</text>
<text x="424.4" y="403" font-size="10.2" text-anchor="middle" fill="#231f20" textLength="98.7" lengthAdjust="spacingAndGlyphs" text-rendering="geometricPrecision">Time after IL-2 initiation</text>
<text x="287" y="415.8" font-size="8.47" text-anchor="start" fill="#231f20" textLength="7.7" lengthAdjust="spacingAndGlyphs">N:</text>
<text x="314.4" y="415.8" font-size="8.47" text-anchor="middle" fill="#231f20" textLength="8.56" lengthAdjust="spacingAndGlyphs">15</text>
<text x="354.3" y="415.8" font-size="8.47" text-anchor="middle" fill="#231f20" textLength="8.56" lengthAdjust="spacingAndGlyphs">18</text>
<text x="375.6" y="415.8" font-size="8.47" text-anchor="middle" fill="#231f20" textLength="8.56" lengthAdjust="spacingAndGlyphs">21</text>
<text x="396.2" y="415.8" font-size="8.47" text-anchor="middle" fill="#231f20" textLength="8.56" lengthAdjust="spacingAndGlyphs">24</text>
<text x="417.1" y="415.8" font-size="8.47" text-anchor="middle" fill="#231f20" textLength="8.56" lengthAdjust="spacingAndGlyphs">26</text>
<text x="438.3" y="415.8" font-size="8.47" text-anchor="middle" fill="#231f20" textLength="8.56" lengthAdjust="spacingAndGlyphs">27</text>
<text x="459" y="415.8" font-size="8.47" text-anchor="middle" fill="#231f20" textLength="8.56" lengthAdjust="spacingAndGlyphs">25</text>
<text x="479.6" y="415.8" font-size="8.47" text-anchor="middle" fill="#231f20" textLength="8.56" lengthAdjust="spacingAndGlyphs">28</text>
<text x="500.8" y="415.8" font-size="8.47" text-anchor="middle" fill="#231f20" textLength="8.56" lengthAdjust="spacingAndGlyphs">15</text>
<rect x="0" y="0" width="520" height="1" fill="#4a4a4a"/>
<rect x="0" y="1" width="520" height="1" fill="#a8a8a8"/>
<rect x="0" y="0" width="1" height="424" fill="#000"/>
<rect x="1" y="0" width="0.6" height="424" fill="#888"/>
<rect x="519" y="0" width="1" height="424" fill="#4a4a4a"/>
<rect x="518" y="0" width="1" height="424" fill="#a8a8a8"/>
<rect x="0" y="423" width="520" height="1" fill="#000"/>
<rect x="0" y="422.4" width="520" height="0.6" fill="#777"/>
</g></svg>
</body></html>
